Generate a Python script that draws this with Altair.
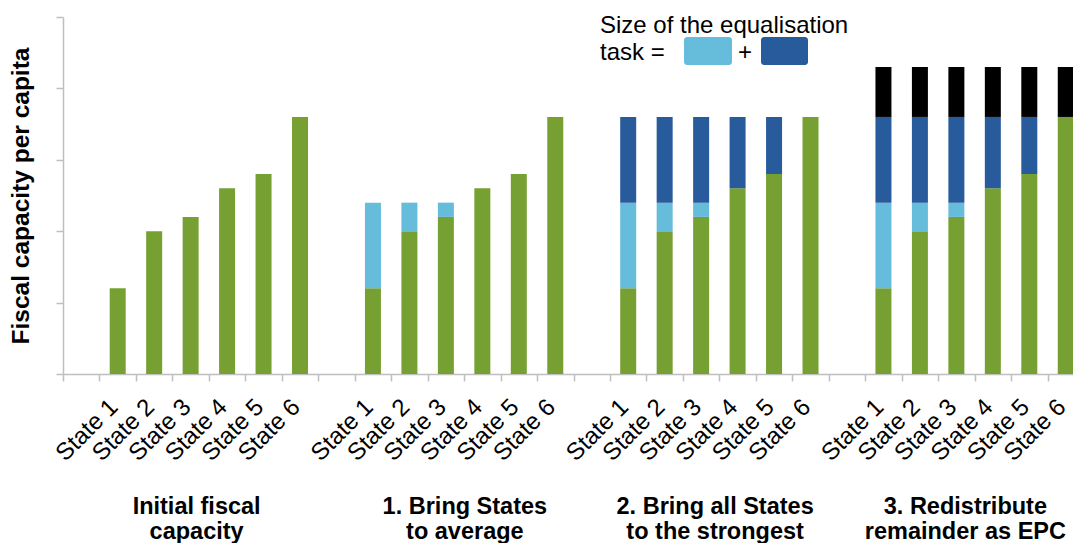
import altair as alt
import pandas as pd

# ---------------- data ----------------
states = ["State 1", "State 2", "State 3", "State 4", "State 5", "State 6"]
group_ids = ["1", "2", "3", "4"]
group_titles = [
    "Initial fiscal\ncapacity",
    "1. Bring States\nto average",
    "2. Bring all States\nto the strongest",
    "3. Redistribute\nremainder as EPC",
]
initial = [1.2, 2.0, 2.2, 2.6, 2.8, 3.6]          # green
to_average = [1.2, 0.4, 0.2, 0.0, 0.0, 0.0]        # light blue
to_strongest = [1.2, 1.2, 1.2, 1.0, 0.8, 0.0]      # dark blue
epc = [0.7, 0.7, 0.7, 0.7, 0.7, 0.7]               # black
components = ["Initial fiscal capacity", "Bring to average", "Bring to strongest", "EPC"]
colors = ["#77A032", "#65BCDB", "#275B9B", "#000000"]
series = [initial, to_average, to_strongest, epc]

# slot keys: one blank slot before each group of six states
slots = []
for g in group_ids:
    slots.append(f"{g}|")
    slots += [f"{g}|{s}" for s in states]

rows = []
for gi, g in enumerate(group_ids):
    for si, s in enumerate(states):
        for ci in range(gi + 1):
            v = series[ci][si]
            if v > 0:
                rows.append({"slot": f"{g}|{s}", "component": components[ci],
                             "order": ci, "value": v})
bars_df = pd.DataFrame(rows)

title_rows = pd.DataFrame({
    "slot": [f"{g}|State 3" for g in group_ids],
    "label": group_titles,
})

FONT = "Liberation Sans"
xscale = alt.Scale(type="band", domain=slots, paddingInner=0, paddingOuter=0)

bars = alt.Chart(bars_df).mark_bar(size=16).encode(
    x=alt.X("slot:N", scale=xscale, sort=slots,
            axis=alt.Axis(title=None, labelExpr="split(datum.value, '|')[1]",
                          labelAngle=-45, labelAlign="right", labelBaseline="middle",
                          labelPadding=22, labelFontSize=24, labelFont=FONT,
                          labelOffset=-4,
                          labelColor="#000000", labelOverlap=False, labelBound=False,
                          tickBand="extent", tickSize=7, tickColor="#BFBFBF",
                          tickWidth=1.5, domainColor="#BFBFBF", domainWidth=1.5,
                          grid=False)),
    y=alt.Y("value:Q", stack="zero",
            scale=alt.Scale(domain=[0, 5], nice=False),
            axis=alt.Axis(title="Fiscal capacity per capita", values=[0, 1, 2, 3, 4, 5],
                          labels=False, tickSize=7, tickColor="#BFBFBF", tickWidth=1.5,
                          domainColor="#BFBFBF", domainWidth=1.5, grid=False,
                          titleFont=FONT, titleFontSize=24.5, titleFontWeight="bold",
                          titleColor="#000000", titlePadding=22)),
    color=alt.Color("component:N", scale=alt.Scale(domain=components, range=colors),
                    legend=None),
    order=alt.Order("order:Q"),
)

# group titles below the axis (one layer per group for its own small offset)
title_dx = [6, 19, 14, 9]
title_layers = []
for gi in range(4):
    title_layers.append(
        alt.Chart(title_rows.iloc[[gi]]).mark_text(
            font=FONT, fontSize=23.5, fontWeight="bold", color="#000000",
            align="center", baseline="alphabetic", lineBreak="\n", lineHeight=24.5,
            dx=title_dx[gi]).encode(
            x=alt.X("slot:N", scale=xscale, sort=slots),
            y=alt.value(497),
            text="label:N",
        )
    )

# legend annotation at the top
legend_text = pd.DataFrame({"t": ["Size of the equalisation\ntask ="]})
legend_txt = alt.Chart(legend_text).mark_text(
    font=FONT, fontSize=24, color="#000000", align="left", baseline="alphabetic",
    lineBreak="\n", lineHeight=27.3).encode(
    x=alt.value(537), y=alt.value(15.7), text="t:N")

plus_df = pd.DataFrame({"t": ["+"]})
plus_txt = alt.Chart(plus_df).mark_text(
    font=FONT, fontSize=24, color="#000000", align="center", baseline="alphabetic").encode(
    x=alt.value(682), y=alt.value(43), text="t:N")

sw_df = pd.DataFrame({"c": [components[1]]})
sw_light = alt.Chart(sw_df).mark_rect(cornerRadius=3, color=colors[1]).encode(
    x=alt.value(621), x2=alt.value(669), y=alt.value(20), y2=alt.value(48))
sw_dark = alt.Chart(sw_df).mark_rect(cornerRadius=3, color=colors[2]).encode(
    x=alt.value(698), x2=alt.value(745), y=alt.value(20), y2=alt.value(48))

chart = alt.layer(bars, *title_layers, legend_txt, plus_txt, sw_light, sw_dark).properties(
    width=1021, height=357,
    autosize=alt.AutoSizeParams(type="none"),
    padding={"left": 55, "top": 9, "right": -11, "bottom": 169},
).configure_view(stroke=None)

chart.save("out.html", embed_options={"renderer": "svg", "actions": False})
